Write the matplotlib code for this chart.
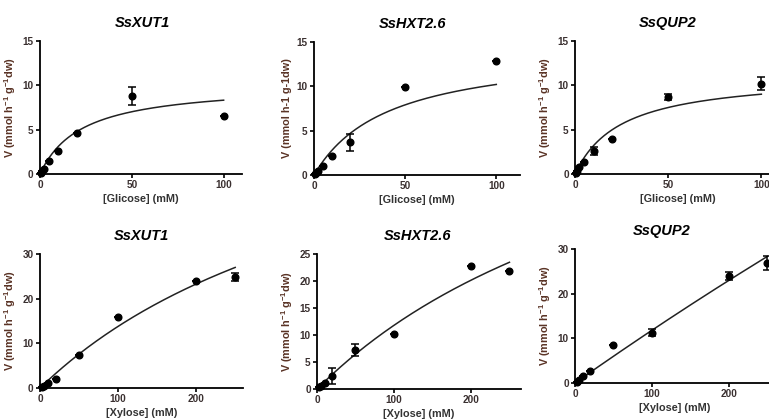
import numpy as np
import matplotlib
matplotlib.use("Agg")
import matplotlib.pyplot as plt

plt.rcParams['font.family'] = ['Liberation Sans', 'DejaVu Sans']
plt.rcParams['mathtext.fontset'] = 'custom'
plt.rcParams['mathtext.rm'] = 'Liberation Sans:bold'
plt.rcParams['mathtext.bf'] = 'Liberation Sans:bold'
plt.rcParams['mathtext.default'] = 'bf'

W, H = 769, 420

# substrate concentrations (mM)
glc_x = [0.5, 1, 2, 5, 10, 20, 50, 100]
xyl_x = [2, 5, 10, 20, 50, 100, 200, 250]

# uptake rates V (mmol h-1 g-1 dw)
xut1_glc = [0.15, 0.35, 0.6, 1.5, 2.6, 4.6, 8.8, 6.5]
xut1_glc_err = [0, 0, 0, 0, 0, 0, 1.0, 0]
hxt26_glc = [0.1, 0.25, 0.5, 1.0, 2.1, 3.7, 9.9, 12.9]
hxt26_glc_err = [0, 0, 0, 0, 0, 0.95, 0, 0]
qup2_glc = [0.1, 0.3, 0.8, 1.3, 2.6, 3.9, 8.7, 10.2]
qup2_glc_err = [0, 0, 0, 0, 0.5, 0, 0.35, 0.7]

xut1_xyl = [0.2, 0.5, 1.1, 2.1, 7.5, 16.0, 24.0, 24.8]
xut1_xyl_err = [0, 0, 0, 0, 0, 0, 0, 0.9]
hxt26_xyl = [0.3, 0.6, 1.1, 2.4, 7.2, 10.2, 22.7, 21.8]
hxt26_xyl_err = [0, 0, 0, 1.45, 1.15, 0, 0, 0]
qup2_xyl = [0.2, 0.6, 1.5, 2.7, 8.4, 11.3, 23.9, 26.9]
qup2_xyl_err = [0, 0, 0, 0, 0, 0.8, 0.9, 1.5]

# Michaelis-Menten fit parameters (Vmax, Km)
fits = {
    'xut1_glc': (10.2, 22.8), 'hxt26_glc': (14.4, 41.0), 'qup2_glc': (11.25, 25.0),
    'xut1_xyl': (74.5, 440.0), 'hxt26_xyl': (69.0, 485.0), 'qup2_xyl': (425.0, 3500.0),
}

YLAB = 'V (mmol h$^{-1}$ g$^{-1}$dw)'
YCOL = '#5a3325'
TCOL = '#3a3030'

fig = plt.figure(figsize=(W / 100, H / 100), dpi=100)


def px_axes(left, top, right, bottom):
    return fig.add_axes([left / W, 1 - bottom / H, (right - left) / W, (bottom - top) / H])


def panel(box, x, y, err, fit, title, xlabel, ylabel, xlim, ylim, xticks, yticks, tx):
    ax = px_axes(*box)
    vmax, km = fit
    s = np.linspace(0, max(x), 300)
    ax.plot(s, vmax * s / (km + s), color='#222222', lw=1.1, clip_on=False)
    ax.errorbar(x, y, yerr=err, fmt='o', color='black', ms=4.8, elinewidth=1.1,
                capsize=2.6, capthick=1.1, clip_on=False, zorder=3)
    ax.set_xlim(xlim)
    ax.set_ylim(ylim)
    ax.set_xticks(xticks)
    ax.set_yticks(yticks)
    for sp in ['top', 'right']:
        ax.spines[sp].set_visible(False)
    for sp in ['left', 'bottom']:
        ax.spines[sp].set_linewidth(1.3)
    ax.tick_params(direction='out', length=3, width=1.2, labelsize=7.2,
                   labelcolor=TCOL, pad=1.5)
    for lab in ax.get_xticklabels() + ax.get_yticklabels():
        lab.set_fontweight('bold')
    ax.set_title(title, fontsize=10.5, fontweight='bold', style='italic', x=tx, pad=10)
    ax.set_xlabel(xlabel, fontsize=7.8, fontweight='bold', color='#333333', labelpad=3)
    ax.set_ylabel(ylabel, fontsize=7.8, fontweight='bold', color=YCOL, labelpad=3)
    return ax


panel((40, 40.7, 242, 174), glc_x, xut1_glc, xut1_glc_err, fits['xut1_glc'],
      'SsXUT1', '[Glicose] (mM)', YLAB, (0, 110), (0, 15), [0, 50, 100], [0, 5, 10, 15], 0.505)
panel((314, 42, 520, 175), glc_x, hxt26_glc, hxt26_glc_err, fits['hxt26_glc'],
      'SsHXT2.6', '[Glicose] (mM)', 'V (mmol h-1 g-1dw)', (0, 113), (0, 15),
      [0, 50, 100], [0, 5, 10, 15], 0.48)
panel((575, 41, 780, 174), glc_x, qup2_glc, qup2_glc_err, fits['qup2_glc'],
      'SsQUP2', '[Glicose] (mM)', YLAB, (0, 110), (0, 15), [0, 50, 100], [0, 5, 10, 15], 0.45)

panel((40, 254, 243, 388), xyl_x, xut1_xyl, xut1_xyl_err, fits['xut1_xyl'],
      'SsXUT1', '[Xylose] (mM)', YLAB, (0, 260), (0, 30), [0, 100, 200], [0, 10, 20, 30], 0.50)
panel((317, 254, 521, 389), xyl_x, hxt26_xyl, hxt26_xyl_err, fits['hxt26_xyl'],
      'SsHXT2.6', '[Xylose] (mM)', YLAB, (0, 265), (0, 25), [0, 100, 200],
      [0, 5, 10, 15, 20, 25], 0.495)
panel((575, 249, 775, 383), xyl_x, qup2_xyl, qup2_xyl_err, fits['qup2_xyl'],
      'SsQUP2', '[Xylose] (mM)', YLAB, (0, 260), (0, 30), [0, 100, 200], [0, 10, 20, 30], 0.435)

fig.savefig('out.png', dpi=100)
